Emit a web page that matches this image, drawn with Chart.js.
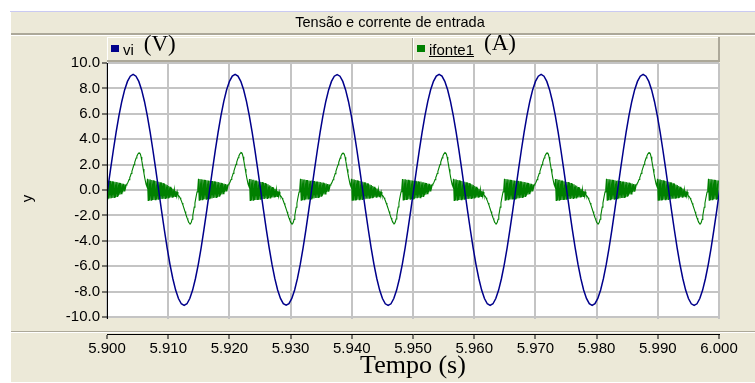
<!DOCTYPE html>
<html>
<head>
<meta charset="utf-8">
<title>Tensão e corrente de entrada</title>
<script src="https://cdn.jsdelivr.net/npm/chart.js@4/dist/chart.umd.min.js"></script>
<style>
  html, body { margin: 0; padding: 0; background: #ffffff; }
  canvas { display: block; }
</style>
</head>
<body>
<canvas id="chart" width="755" height="383"></canvas>
<script>
// ---- data -------------------------------------------------------------
const CHART_TITLE = 'Tensão e corrente de entrada';
const SERIES_LABELS = ['vi', 'ifonte1'];
const SERIES_UNITS = ['(V)', '(A)'];
const X_TITLE = 'Tempo (s)';
const Y_TITLE = 'y';

const X_TICKS = [5.90, 5.91, 5.92, 5.93, 5.94, 5.95, 5.96, 5.97, 5.98, 5.99, 6.00];
const Y_TICKS = [-10, -8, -6, -4, -2, 0, 2, 4, 6, 8, 10];

// sampling of the two traces (60 Hz mains)
const PERIOD = 1 / 60;
const VI_T0 = 5.89964;
const VI_STEP = PERIOD / 36;
const IF_T0 = 5.8999;
const IF_STEP = PERIOD / 144;

// input voltage vi (V)
const viValues = [
  -1.58,
  0.00, 1.58, 3.11, 4.55, 5.85, 6.97, 7.88, 8.55, 8.96, 9.10, 8.96, 8.55, 7.88, 6.97, 5.85, 4.55, 3.11, 1.58,
  0.00, -1.58, -3.11, -4.55, -5.85, -6.97, -7.88, -8.55, -8.96, -9.08, -8.96, -8.55, -7.88, -6.97, -5.85, -4.55, -3.11, -1.58,
  0.01, 1.59, 3.12, 4.56, 5.86, 6.98, 7.89, 8.56, 8.97, 9.11, 8.97, 8.56, 7.89, 6.98, 5.86, 4.56, 3.12, 1.59,
  0.01, -1.57, -3.10, -4.54, -5.84, -6.96, -7.87, -8.54, -8.95, -9.07, -8.95, -8.54, -7.87, -6.96, -5.84, -4.54, -3.10, -1.57,
  0.00, 1.58, 3.11, 4.55, 5.85, 6.97, 7.88, 8.55, 8.96, 9.09, 8.96, 8.55, 7.88, 6.97, 5.85, 4.55, 3.11, 1.58,
  0.00, -1.58, -3.11, -4.55, -5.85, -6.97, -7.88, -8.55, -8.96, -9.09, -8.96, -8.55, -7.88, -6.97, -5.85, -4.55, -3.11, -1.58,
  0.01, 1.59, 3.12, 4.56, 5.86, 6.98, 7.89, 8.56, 8.97, 9.10, 8.97, 8.56, 7.89, 6.98, 5.86, 4.56, 3.12, 1.59,
  0.00, -1.58, -3.11, -4.55, -5.85, -6.97, -7.88, -8.55, -8.96, -9.08, -8.96, -8.55, -7.88, -6.97, -5.85, -4.55, -3.11, -1.58,
  0.00, 1.58, 3.11, 4.55, 5.85, 6.97, 7.88, 8.55, 8.96, 9.10, 8.96, 8.55, 7.88, 6.97, 5.85, 4.55, 3.11, 1.58,
  0.01, -1.57, -3.10, -4.54, -5.84, -6.96, -7.87, -8.54, -8.95, -9.08, -8.95, -8.54, -7.87, -6.96, -5.84, -4.54, -3.10, -1.57,
  0.00, 1.58, 3.11, 4.55, 5.85, 6.97, 7.88, 8.55, 8.96, 9.11, 8.96, 8.55, 7.88, 6.97, 5.85, 4.55, 3.11, 1.58,
  0.00, -1.58, -3.11, -4.55, -5.85, -6.97, -7.88, -8.55, -8.96, -9.09, -8.96, -8.55, -7.88, -6.97, -5.85, -4.55, -3.11, -1.58,
  0.02
];

// source current ifonte1 (A): switching ripple around the zero crossings,
// a positive hump after each positive peak of vi and a dip after each negative one
const ifonteValues = [
  // cycle 1
  0.74, -0.70, 0.73, -0.68, 0.72, -0.66, 0.70, -0.64, 0.68, -0.62, 0.66, -0.59, 0.65, -0.56, 0.62, -0.50, 0.60, -0.45, 0.57, -0.37, 0.54, -0.30, 0.51, -0.19, 0.48, -0.08, 0.45, 0.15,
  0.40, 0.47, 0.55, 0.68, 0.82, 0.97, 1.12, 1.30, 1.47, 1.65, 1.83, 2.00, 2.18, 2.35, 2.52, 2.66, 2.78, 2.87, 2.93, 2.92, 2.82, 2.60, 2.30, 1.98, 1.65, 1.32, 1.00, 0.72, 0.45, 0.30,
  0.88, -0.82, 0.85, -0.81, 0.82, -0.80, 0.79, -0.79, 0.76, -0.78, 0.73, -0.76, 0.70, -0.75, 0.67, -0.73, 0.64, -0.72, 0.61, -0.71, 0.58, -0.70, 0.54, -0.68, 0.50, -0.66, 0.45, -0.64, 0.39, -0.62, 0.32, -0.60, 0.25, -0.58, 0.18, -0.56, 0.10, -0.54, 0.02, -0.51, -0.07, -0.48, -0.15, -0.42,
  -0.45, -0.52, -0.62, -0.74, -0.88, -1.03, -1.18, -1.35, -1.52, -1.70, -1.88, -2.05, -2.22, -2.37, -2.50, -2.60, -2.66, -2.63, -2.52, -2.30, -2.00, -1.68, -1.35, -1.03, -0.72, -0.43, -0.15, 0.10,
  0.88, -0.80, 0.86, -0.78, 0.84, -0.76, 0.82, -0.75, 0.80, -0.73, 0.78, -0.72, 0.76, -0.71,
  // cycle 2
  0.75, -0.69, 0.73, -0.67, 0.71, -0.66, 0.70, -0.63, 0.69, -0.61, 0.66, -0.58, 0.64, -0.55, 0.62, -0.49, 0.59, -0.44, 0.56, -0.36, 0.53, -0.29, 0.50, -0.18, 0.47, -0.07, 0.44, 0.16,
  0.41, 0.48, 0.56, 0.69, 0.83, 0.98, 1.13, 1.31, 1.48, 1.66, 1.84, 2.02, 2.20, 2.37, 2.54, 2.68, 2.80, 2.89, 2.95, 2.93, 2.83, 2.61, 2.31, 1.99, 1.66, 1.33, 1.01, 0.73, 0.46, 0.31,
  0.87, -0.83, 0.86, -0.80, 0.81, -0.81, 0.80, -0.78, 0.75, -0.79, 0.74, -0.75, 0.69, -0.76, 0.68, -0.72, 0.63, -0.73, 0.62, -0.70, 0.57, -0.71, 0.55, -0.67, 0.49, -0.67, 0.46, -0.63, 0.38, -0.63, 0.33, -0.59, 0.24, -0.59, 0.19, -0.55, 0.09, -0.55, 0.03, -0.50, -0.08, -0.49, -0.14, -0.41,
  -0.46, -0.53, -0.63, -0.75, -0.89, -1.04, -1.19, -1.36, -1.53, -1.71, -1.89, -2.06, -2.23, -2.38, -2.51, -2.61, -2.67, -2.64, -2.53, -2.31, -2.01, -1.69, -1.36, -1.04, -0.73, -0.44, -0.16, 0.09,
  0.89, -0.81, 0.87, -0.79, 0.83, -0.77, 0.83, -0.74, 0.79, -0.74, 0.79, -0.71, 0.75, -0.72,
  // cycle 3
  0.73, -0.71, 0.74, -0.67, 0.71, -0.67, 0.71, -0.63, 0.67, -0.63, 0.67, -0.58, 0.64, -0.57, 0.63, -0.49, 0.59, -0.46, 0.58, -0.36, 0.53, -0.31, 0.52, -0.18, 0.47, -0.09, 0.46, 0.14,
  0.39, 0.46, 0.54, 0.67, 0.81, 0.96, 1.11, 1.29, 1.46, 1.64, 1.82, 1.99, 2.17, 2.34, 2.51, 2.65, 2.77, 2.86, 2.91, 2.90, 2.80, 2.58, 2.28, 1.96, 1.63, 1.31, 0.99, 0.71, 0.44, 0.29,
  0.89, -0.81, 0.84, -0.82, 0.83, -0.79, 0.78, -0.80, 0.77, -0.77, 0.72, -0.77, 0.71, -0.74, 0.66, -0.74, 0.65, -0.71, 0.60, -0.72, 0.59, -0.69, 0.53, -0.69, 0.51, -0.65, 0.44, -0.65, 0.40, -0.61, 0.31, -0.61, 0.26, -0.57, 0.17, -0.57, 0.11, -0.53, 0.01, -0.52, -0.06, -0.47, -0.16, -0.43,
  -0.44, -0.51, -0.61, -0.73, -0.87, -1.02, -1.17, -1.34, -1.51, -1.69, -1.87, -2.04, -2.21, -2.36, -2.49, -2.59, -2.65, -2.62, -2.51, -2.29, -1.99, -1.67, -1.34, -1.02, -0.71, -0.42, -0.14, 0.11,
  0.87, -0.79, 0.85, -0.79, 0.85, -0.75, 0.81, -0.76, 0.81, -0.72, 0.77, -0.73, 0.77, -0.70,
  // cycle 4
  0.74, -0.70, 0.72, -0.69, 0.73, -0.65, 0.69, -0.65, 0.68, -0.61, 0.65, -0.60, 0.66, -0.55, 0.61, -0.51, 0.61, -0.44, 0.56, -0.38, 0.55, -0.29, 0.50, -0.20, 0.49, -0.07, 0.44, 0.15,
  0.40, 0.47, 0.55, 0.68, 0.82, 0.97, 1.12, 1.30, 1.47, 1.65, 1.83, 2.01, 2.19, 2.36, 2.53, 2.67, 2.79, 2.88, 2.94, 2.92, 2.82, 2.60, 2.30, 1.98, 1.64, 1.32, 1.00, 0.72, 0.45, 0.30,
  0.88, -0.82, 0.85, -0.81, 0.82, -0.80, 0.79, -0.79, 0.76, -0.78, 0.73, -0.76, 0.70, -0.75, 0.67, -0.73, 0.64, -0.72, 0.61, -0.71, 0.58, -0.70, 0.54, -0.68, 0.50, -0.66, 0.45, -0.64, 0.39, -0.62, 0.32, -0.60, 0.25, -0.58, 0.18, -0.56, 0.10, -0.54, 0.02, -0.51, -0.07, -0.48, -0.15, -0.42,
  -0.45, -0.52, -0.62, -0.74, -0.88, -1.03, -1.18, -1.35, -1.52, -1.70, -1.88, -2.05, -2.22, -2.37, -2.50, -2.60, -2.66, -2.63, -2.52, -2.30, -2.00, -1.68, -1.35, -1.03, -0.72, -0.43, -0.15, 0.10,
  0.88, -0.81, 0.86, -0.77, 0.84, -0.77, 0.82, -0.74, 0.80, -0.74, 0.78, -0.71, 0.76, -0.72,
  // cycle 5
  0.74, -0.70, 0.73, -0.68, 0.72, -0.66, 0.70, -0.64, 0.68, -0.62, 0.66, -0.59, 0.65, -0.56, 0.62, -0.50, 0.60, -0.45, 0.57, -0.37, 0.54, -0.30, 0.51, -0.19, 0.48, -0.08, 0.45, 0.15,
  0.40, 0.47, 0.55, 0.68, 0.82, 0.97, 1.12, 1.30, 1.47, 1.65, 1.83, 2.00, 2.18, 2.35, 2.52, 2.66, 2.78, 2.86, 2.92, 2.91, 2.81, 2.59, 2.29, 1.97, 1.65, 1.32, 1.00, 0.72, 0.45, 0.30,
  0.87, -0.83, 0.86, -0.80, 0.81, -0.81, 0.80, -0.78, 0.75, -0.79, 0.74, -0.75, 0.69, -0.76, 0.68, -0.72, 0.63, -0.73, 0.62, -0.70, 0.57, -0.71, 0.55, -0.67, 0.49, -0.67, 0.46, -0.63, 0.38, -0.63, 0.33, -0.59, 0.24, -0.59, 0.19, -0.55, 0.09, -0.55, 0.03, -0.50, -0.08, -0.49, -0.14, -0.41,
  -0.45, -0.52, -0.62, -0.74, -0.88, -1.03, -1.18, -1.35, -1.52, -1.70, -1.88, -2.05, -2.22, -2.37, -2.50, -2.60, -2.66, -2.63, -2.52, -2.30, -2.00, -1.68, -1.35, -1.03, -0.72, -0.43, -0.15, 0.10,
  0.89, -0.80, 0.86, -0.78, 0.84, -0.76, 0.82, -0.75, 0.80, -0.73, 0.78, -0.72, 0.76, -0.71,
  // cycle 6
  0.73, -0.69, 0.74, -0.67, 0.71, -0.67, 0.71, -0.63, 0.67, -0.63, 0.67, -0.58, 0.64, -0.57, 0.63, -0.49, 0.59, -0.46, 0.58, -0.36, 0.53, -0.31, 0.52, -0.18, 0.47, -0.09, 0.46, 0.14,
  0.41, 0.48, 0.56, 0.69, 0.83, 0.98, 1.13, 1.31, 1.48, 1.66, 1.84, 2.01, 2.19, 2.36, 2.53, 2.67, 2.79, 2.88, 2.94, 2.93, 2.83, 2.61, 2.31, 1.99, 1.66, 1.33, 1.01, 0.73, 0.46, 0.31,
  0.89, -0.81, 0.84, -0.82, 0.83, -0.79, 0.78, -0.80, 0.77, -0.77, 0.72, -0.77, 0.71, -0.74, 0.66, -0.74, 0.65, -0.71, 0.60, -0.72, 0.59, -0.69, 0.53, -0.69, 0.51, -0.65, 0.44, -0.65, 0.40, -0.61, 0.31, -0.61, 0.26, -0.57, 0.17, -0.57, 0.11, -0.53, 0.01, -0.52, -0.06, -0.47, -0.16, -0.43,
  -0.46, -0.53, -0.63, -0.75, -0.89, -1.04, -1.19, -1.36, -1.53, -1.71, -1.89, -2.06, -2.23, -2.38, -2.51, -2.61, -2.67, -2.64, -2.53, -2.31, -2.01, -1.69, -1.36, -1.04, -0.73, -0.44, -0.16, 0.09,
  0.88, -0.80, 0.86, -0.78, 0.84, -0.76, 0.82, -0.75, 0.80, -0.73, 0.78, -0.72, 0.76, -0.71,
  // closing sample
  0.74
];

// ---- styling ----------------------------------------------------------
const SANS = '"Liberation Sans", Arial, sans-serif';
const SERIF = '"Liberation Serif", "Times New Roman", serif';
const PANEL = '#ECE9D8';
const EDGE = '#ACA899';
const GRID = '#C4C4C4';
const VI_COLOR = '#00008B';
const IF_COLOR = '#008000';

const viPoints = viValues.map((y, i) => ({ x: VI_T0 + i * VI_STEP, y }));
const ifPoints = ifonteValues.map((y, i) => ({ x: IF_T0 + i * IF_STEP, y }));

// Window chrome: panel, title bar, legend strip, white plot field and the
// detached time axis strip below the plot.
const framePlugin = {
  id: 'frame',
  beforeDraw(chart) {
    const c = chart.ctx;
    const a = chart.chartArea;
    const W = chart.width, H = chart.height;
    const plotBottom = Math.round(chart.scales.y.getPixelForValue(Y_TICKS[0]));
    c.save();
    c.fillStyle = '#ffffff';
    c.fillRect(0, 0, W, H);
    c.fillStyle = PANEL;
    c.fillRect(11, 12, W - 11, H - 13);
    c.fillStyle = '#CACAF2';
    c.fillRect(10, 11, W - 10, 1);

    // title bar
    c.fillStyle = EDGE;
    c.fillRect(11, 33, W - 11, 2);
    c.fillStyle = '#ffffff';
    c.fillRect(11, 35, W - 11, 1);
    c.fillStyle = '#000000';
    c.font = '14.5px ' + SANS;
    c.textAlign = 'center';
    c.textBaseline = 'middle';
    c.fillText(CHART_TITLE, 390, 23);

    // legend strip
    const L = a.left, R = a.right;
    c.fillStyle = '#ffffff';
    c.fillRect(L, 37, R - L, 1);
    c.fillRect(L, 37, 1, 24);
    c.fillStyle = EDGE;
    c.fillRect(L, 60, R - L + 1, 2);
    c.fillRect(R - 1, 37, 2, 25);
    const mid = Math.round((L + R) / 2) - 1;
    c.fillRect(mid, 38, 1, 22);
    c.fillStyle = '#ffffff';
    c.fillRect(mid + 1, 38, 1, 22);

    chart.data.datasets.forEach((ds, i) => {
      const x0 = (i === 0 ? L : mid + 1) + 4;
      c.fillStyle = ds.borderColor;
      c.fillRect(x0, 45, 8, 7);
      c.fillStyle = '#000000';
      c.font = '15px ' + SANS;
      c.textAlign = 'left';
      c.textBaseline = 'alphabetic';
      const tx = x0 + 12;
      c.fillText(ds.label, tx, 55);
      const w = c.measureText(ds.label).width;
      if (i === 1) {
        c.fillRect(tx, 56, w, 1);
      }
      c.font = '23px ' + SERIF;
      c.fillText(SERIES_UNITS[i], tx + w + 10, i === 0 ? 51 : 50);
    });

    // white plot field
    c.fillStyle = '#ffffff';
    c.fillRect(L, 62, R - L, plotBottom - 62);
    c.restore();
  },
  afterDraw(chart) {
    const c = chart.ctx;
    const a = chart.chartArea;
    const W = chart.width;
    const plotBottom = Math.round(chart.scales.y.getPixelForValue(Y_TICKS[0]));
    c.save();
    c.fillStyle = PANEL;
    c.fillRect(a.left - 6, plotBottom + 2, a.right - a.left + 10, a.bottom - plotBottom - 2);
    c.fillStyle = EDGE;
    c.fillRect(11, 331, W - 11, 1);
    c.fillStyle = '#ffffff';
    c.fillRect(11, 332, W - 11, 1);
    c.restore();
  }
};

new Chart(document.getElementById('chart'), {
  type: 'line',
  data: {
    datasets: [
      { label: SERIES_LABELS[0], data: viPoints, borderColor: VI_COLOR, borderWidth: 1.5,
        pointRadius: 0, tension: 0, fill: false },
      { label: SERIES_LABELS[1], data: ifPoints, borderColor: IF_COLOR, borderWidth: 1.1,
        pointRadius: 0, tension: 0, fill: false }
    ]
  },
  options: {
    responsive: false,
    animation: false,
    devicePixelRatio: 1,
    events: [],
    layout: { padding: { top: 63, right: 36, left: 0, bottom: 0 } },
    plugins: {
      legend: { display: false },
      title: { display: false },
      tooltip: { enabled: false }
    },
    scales: {
      x: {
        type: 'linear',
        min: 5.9,
        max: 6.0,
        afterBuildTicks: (s) => { s.ticks = X_TICKS.map((v) => ({ value: v })); },
        afterFit: (s) => { s.height = 49; },
        ticks: {
          callback: (v) => Number(v).toFixed(3),
          font: { family: SANS, size: 15 },
          color: '#000000',
          padding: 1,
          maxRotation: 0,
          autoSkip: false
        },
        grid: { color: GRID, lineWidth: 2, tickLength: 5, tickColor: '#000000', tickWidth: 1 },
        border: { color: '#000000', width: 1, z: 1 },
        title: {
          display: true,
          text: X_TITLE,
          font: { family: SERIF, size: 26 },
          color: '#000000',
          padding: { top: 0, bottom: 1 }
        }
      },
      y: {
        min: -11.34,   // leaves the strip between the plot and the time axis
        max: 10,
        afterBuildTicks: (s) => { s.ticks = Y_TICKS.map((v) => ({ value: v })); },
        afterFit: (s) => { s.width = 107; },
        ticks: {
          callback: (v) => Number(v).toFixed(1),
          font: { family: SANS, size: 15 },
          color: '#000000',
          padding: 2
        },
        grid: { color: GRID, lineWidth: 2, tickLength: 5, tickColor: '#000000', tickWidth: 1 },
        border: { color: '#000000', width: 1, z: 1 },
        title: {
          display: true,
          text: Y_TITLE,
          font: { family: SANS, size: 15 },
          color: '#000000',
          padding: { top: 19, bottom: 0 }
        }
      }
    }
  },
  plugins: [framePlugin]
});
</script>
</body>
</html>
